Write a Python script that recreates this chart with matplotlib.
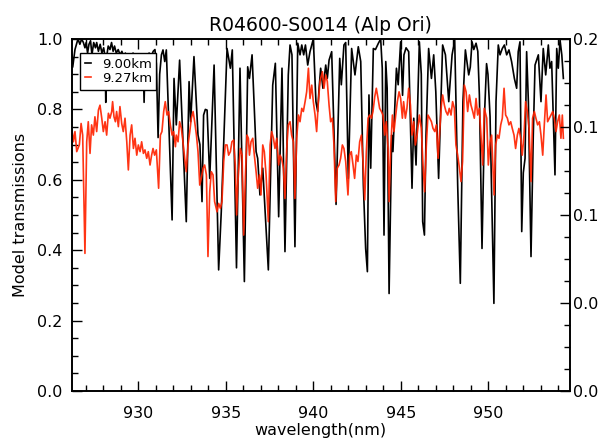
import matplotlib
matplotlib.use("Agg")
import matplotlib.pyplot as plt
from matplotlib.ticker import MultipleLocator, FixedLocator, FixedFormatter

title = "R04600-S0014 (Alp Ori)"
xlabel = "wavelength(nm)"
ylabel = "Model transmissions"
series_names = ["9.00km", "9.27km"]
right_ticks = [0.0, 0.05, 0.10, 0.15, 0.20]
right_labels = ["0.0", "0.0", "0.1", "0.1", "0.2"]

# 9.00 km (black)
black_wl = [926.21, 926.25, 926.38, 926.55, 926.66, 926.76, 926.86, 926.95, 927.02, 927.10,
            927.18, 927.27, 927.35, 927.45, 927.55, 927.62, 927.72, 927.82, 927.92, 928.02,
            928.10, 928.14, 928.19, 928.28, 928.38, 928.47, 928.56, 928.64, 928.74, 928.85,
            928.96, 929.06, 929.16, 929.26, 929.36, 929.46, 929.58, 929.70, 929.82, 929.94,
            930.06, 930.18, 930.27, 930.33, 930.39, 930.50, 930.62, 930.74, 930.85, 930.95,
            931.03, 931.13, 931.22, 931.32, 931.41, 931.51, 931.60, 931.93, 932.04, 932.17,
            932.36, 932.74, 932.90, 932.99, 933.18, 933.41, 933.52, 933.64, 933.73, 933.83,
            933.93, 934.08, 934.33, 934.46, 934.59, 934.74, 935.07, 935.26, 935.37, 935.61,
            935.81, 936.06, 936.25, 936.35, 936.50, 936.73, 936.82, 936.95, 937.11, 937.43,
            937.68, 937.83, 938.02, 938.21, 938.38, 938.57, 938.67, 938.78, 938.95, 939.11,
            939.24, 939.34, 939.45, 939.55, 939.68, 939.81, 940.00, 940.15, 940.25, 940.33,
            940.42, 940.55, 940.71, 940.80, 940.90, 941.05, 941.30, 941.51, 941.60, 941.75,
            941.85, 942.00, 942.19, 942.38, 942.57, 942.71, 942.86, 942.99, 943.09, 943.18,
            943.28, 943.43, 943.55, 943.72, 943.85, 943.94, 944.04, 944.14, 944.22, 944.33,
            944.48, 944.55, 944.75, 944.85, 944.99, 945.10, 945.18, 945.30, 945.45, 945.64,
            945.74, 945.87, 946.06, 946.17, 946.25, 946.35, 946.44, 946.59, 946.75, 946.88,
            947.00, 947.16, 947.39, 947.55, 947.74, 947.93, 948.08, 948.25, 948.40, 948.55,
            948.69, 948.88, 948.97, 949.07, 949.17, 949.30, 949.40, 949.49, 949.64, 949.79,
            949.90, 949.98, 950.10, 950.32, 950.44, 950.57, 950.67, 950.80, 950.92, 951.05,
            951.18, 951.33, 951.49, 951.62, 951.71, 951.81, 951.91, 952.00, 952.10, 952.19,
            952.29, 952.44, 952.57, 952.67, 952.86, 953.01, 953.14, 953.28, 953.43, 953.52,
            953.62, 953.81, 953.91, 954.00, 954.10, 954.20, 954.29]
black_tr = [0.955, 0.92, 0.97, 1.0, 0.985, 1.0, 0.99, 0.975, 0.99, 0.96,
            0.985, 0.995, 0.955, 0.99, 0.975, 0.99, 0.965, 0.985, 0.96, 0.975,
            0.95, 0.82, 0.95, 0.98, 0.97, 0.99, 0.965, 0.98, 0.96, 0.97,
            0.955, 0.965, 0.95, 0.96, 0.945, 0.955, 0.95, 0.96, 0.945, 0.955,
            0.95, 0.955, 0.945, 0.82, 0.945, 0.955, 0.96, 0.95, 0.965, 0.97,
            0.93, 0.72, 0.90, 0.955, 0.969, 0.936, 0.969, 0.486, 0.888, 0.756,
            0.940, 0.481, 0.879, 0.765, 0.950, 0.727, 0.70, 0.538, 0.784, 0.80,
            0.798, 0.604, 0.926, 0.633, 0.344, 0.509, 0.973, 0.917, 0.969, 0.35,
            0.917, 0.311, 0.921, 0.888, 0.955, 0.680, 0.661, 0.557, 0.633, 0.344,
            0.869, 0.931, 0.495, 0.917, 0.396, 0.898, 0.983, 0.955, 0.41, 0.988,
            0.955, 0.983, 0.955, 0.983, 0.926, 0.964, 1.0, 0.822, 0.794, 0.86,
            0.917, 0.86, 0.926, 0.888, 0.94, 0.964, 0.53, 0.945, 0.87, 0.983,
            0.99, 0.604, 0.973, 0.898, 0.978, 0.936, 0.585, 0.405, 0.339, 0.841,
            0.633, 0.973, 0.97, 0.988, 1.0, 0.917, 0.443, 0.936, 0.86, 0.277,
            0.727, 0.68, 0.917, 0.87, 0.992, 0.84, 0.955, 0.975, 0.964, 0.576,
            0.775, 0.642, 0.992, 0.9, 0.481, 0.443, 0.727, 0.973, 0.888, 0.955,
            0.85, 0.604, 0.983, 0.955, 0.822, 0.955, 0.997, 0.585, 0.306, 0.822,
            0.969, 0.898, 0.92, 0.992, 0.97, 0.988, 0.965, 0.841, 0.405, 0.794,
            0.93, 0.90, 0.78, 0.249, 0.822, 0.983, 0.955, 0.973, 0.983, 0.955,
            0.969, 0.936, 0.888, 0.86, 0.964, 0.992, 0.453, 0.62, 0.661, 0.964,
            0.822, 0.382, 0.727, 0.926, 0.955, 0.822, 0.973, 0.898, 0.983, 0.917,
            0.936, 0.614, 0.973, 0.917, 0.997, 0.955, 0.888]

# 9.27 km (red)
red_wl = [926.21, 926.29, 926.38, 926.48, 926.63, 926.73, 926.82, 926.95, 927.05, 927.14,
          927.24, 927.33, 927.43, 927.52, 927.62, 927.72, 927.81, 927.91, 928.00, 928.10,
          928.19, 928.29, 928.38, 928.48, 928.53, 928.61, 928.69, 928.76, 928.86, 928.95,
          929.05, 929.14, 929.24, 929.34, 929.43, 929.53, 929.62, 929.72, 929.81, 929.91,
          930.00, 930.10, 930.19, 930.29, 930.38, 930.48, 930.57, 930.67, 930.76, 930.84,
          930.93, 931.03, 931.16, 931.26, 931.35, 931.45, 931.54, 931.64, 931.73, 931.83,
          931.93, 932.02, 932.12, 932.17, 932.27, 932.36, 932.46, 932.55, 932.65, 932.74,
          932.84, 932.94, 933.03, 933.13, 933.22, 933.32, 933.41, 933.51, 933.60, 933.70,
          933.79, 933.89, 933.98, 934.08, 934.17, 934.27, 934.36, 934.50, 934.59, 934.69,
          934.78, 934.88, 934.97, 935.07, 935.16, 935.26, 935.35, 935.45, 935.54, 935.62,
          935.68, 935.77, 935.83, 935.93, 936.02, 936.12, 936.21, 936.29, 936.35, 936.44,
          936.54, 936.63, 936.73, 936.82, 936.92, 937.01, 937.11, 937.20, 937.30, 937.43,
          937.53, 937.62, 937.72, 937.81, 937.91, 938.02, 938.10, 938.19, 938.29, 938.38,
          938.48, 938.57, 938.67, 938.76, 938.86, 938.95, 939.05, 939.15, 939.24, 939.34,
          939.43, 939.53, 939.62, 939.72, 939.81, 939.91, 940.00, 940.10, 940.19, 940.29,
          940.38, 940.42, 940.52, 940.61, 940.71, 940.80, 940.90, 940.99, 941.09, 941.18,
          941.28, 941.37, 941.47, 941.56, 941.66, 941.75, 941.85, 941.98, 942.08, 942.17,
          942.27, 942.36, 942.46, 942.55, 942.65, 942.75, 942.84, 942.94, 943.03, 943.13,
          943.22, 943.32, 943.41, 943.51, 943.60, 943.70, 943.79, 943.89, 943.98, 944.08,
          944.17, 944.27, 944.33, 944.42, 944.52, 944.61, 944.71, 944.80, 944.90, 944.99,
          945.09, 945.16, 945.26, 945.35, 945.45, 945.55, 945.64, 945.74, 945.83, 945.93,
          946.06, 946.17, 946.27, 946.36, 946.46, 946.55, 946.65, 946.75, 946.84, 946.94,
          947.03, 947.13, 947.22, 947.32, 947.39, 947.49, 947.58, 947.68, 947.77, 947.87,
          947.96, 948.06, 948.15, 948.25, 948.35, 948.44, 948.53, 948.63, 948.73, 948.82,
          948.92, 949.01, 949.11, 949.20, 949.30, 949.39, 949.49, 949.58, 949.68, 949.77,
          949.91, 950.00, 950.10, 950.19, 950.33, 950.42, 950.52, 950.61, 950.71, 950.80,
          950.90, 950.99, 951.09, 951.18, 951.28, 951.37, 951.47, 951.56, 951.66, 951.75,
          951.85, 951.94, 952.04, 952.13, 952.23, 952.33, 952.44, 952.53, 952.63, 952.72,
          952.82, 952.92, 953.01, 953.11, 953.20, 953.30, 953.39, 953.49, 953.58, 953.68,
          953.77, 953.87, 953.96, 954.06, 954.15, 954.23, 954.29]
red_tr = [0.741, 0.708, 0.737, 0.68, 0.699, 0.760, 0.727, 0.391, 0.708, 0.765,
          0.675, 0.756, 0.727, 0.779, 0.737, 0.798, 0.812, 0.775, 0.737, 0.765,
          0.727, 0.789, 0.775, 0.794, 0.822, 0.779, 0.765, 0.794, 0.751, 0.808,
          0.760, 0.737, 0.775, 0.708, 0.628, 0.727, 0.756, 0.689, 0.718, 0.670,
          0.699, 0.680, 0.708, 0.675, 0.685, 0.661, 0.680, 0.642, 0.670, 0.689,
          0.670, 0.685, 0.576, 0.727, 0.737, 0.794, 0.822, 0.784, 0.794, 0.756,
          0.727, 0.737, 0.694, 0.727, 0.708, 0.765, 0.746, 0.708, 0.661, 0.623,
          0.699, 0.737, 0.775, 0.794, 0.765, 0.727, 0.68, 0.585, 0.604, 0.633,
          0.642, 0.614, 0.382, 0.566, 0.623, 0.614, 0.538, 0.509, 0.533, 0.519,
          0.538, 0.652, 0.699, 0.699, 0.670, 0.680, 0.708, 0.713, 0.642, 0.5,
          0.585, 0.652, 0.689, 0.670, 0.443, 0.614, 0.727, 0.718, 0.670, 0.708,
          0.718, 0.670, 0.623, 0.576, 0.614, 0.557, 0.699, 0.680, 0.614, 0.481,
          0.699, 0.737, 0.718, 0.689, 0.718, 0.642, 0.670, 0.661, 0.633, 0.547,
          0.689, 0.756, 0.765, 0.727, 0.708, 0.547, 0.718, 0.784, 0.765, 0.803,
          0.794, 0.822, 0.850, 0.917, 0.831, 0.869, 0.822, 0.784, 0.737, 0.822,
          0.879, 0.888, 0.907, 0.86, 0.898, 0.879, 0.812, 0.765, 0.775, 0.699,
          0.538, 0.633, 0.642, 0.661, 0.699, 0.689, 0.652, 0.557, 0.670, 0.680,
          0.642, 0.604, 0.670, 0.652, 0.708, 0.727, 0.652, 0.543, 0.680, 0.775,
          0.784, 0.775, 0.794, 0.836, 0.860, 0.831, 0.803, 0.794, 0.784, 0.727,
          0.765, 0.689, 0.538, 0.689, 0.784, 0.737, 0.784, 0.822, 0.850, 0.831,
          0.775, 0.822, 0.775, 0.803, 0.860, 0.812, 0.727, 0.765, 0.699, 0.727,
          0.784, 0.746, 0.642, 0.566, 0.699, 0.784, 0.775, 0.765, 0.746, 0.737,
          0.756, 0.661, 0.737, 0.812, 0.841, 0.812, 0.794, 0.784, 0.803, 0.784,
          0.822, 0.803, 0.699, 0.670, 0.633, 0.595, 0.652, 0.869, 0.850, 0.794,
          0.841, 0.812, 0.794, 0.775, 0.831, 0.784, 0.803, 0.727, 0.642, 0.803,
          0.775, 0.642, 0.708, 0.727, 0.557, 0.699, 0.727, 0.718, 0.756, 0.775,
          0.860, 0.784, 0.775, 0.756, 0.765, 0.746, 0.727, 0.689, 0.727, 0.746,
          0.718, 0.670, 0.727, 0.822, 0.794, 0.746, 0.595, 0.775, 0.794, 0.775,
          0.756, 0.765, 0.727, 0.670, 0.756, 0.841, 0.765, 0.775, 0.784, 0.794,
          0.775, 0.737, 0.765, 0.784, 0.718, 0.784, 0.718]

plt.rcParams['font.family'] = ['DejaVu Sans']
fig = plt.figure(figsize=(6.04, 4.41), dpi=100)
ax = fig.add_axes([72/604, 1-391/441, (569.5-72)/604, 352/441])

ax.plot(black_wl, black_tr, color='black', lw=1.2, label=series_names[0])
ax.plot(red_wl, red_tr, color='#ff2200', lw=1.2, alpha=0.92, label=series_names[1])

ax.set_xlim(926.21, 954.64)
ax.set_ylim(0.0, 1.0)
ax.xaxis.set_major_locator(MultipleLocator(5))
ax.xaxis.set_minor_locator(MultipleLocator(1))
ax.yaxis.set_major_locator(MultipleLocator(0.2))
ax.yaxis.set_minor_locator(MultipleLocator(0.05))
ax.yaxis.set_major_formatter(matplotlib.ticker.FormatStrFormatter('%.1f'))
ax.xaxis.set_major_formatter(matplotlib.ticker.FormatStrFormatter('%d'))
ax.tick_params(axis='x', which='both', direction='in', top=True, bottom=True,
               labelsize=11.5, pad=11)
ax.tick_params(axis='y', which='both', direction='in', left=True, right=False,
               labelsize=11.5, pad=7)
ax.tick_params(which='major', length=7, width=1)
ax.tick_params(which='minor', length=4, width=1)

ax2 = ax.twinx()
ax2.set_ylim(0.0, 0.2)
ax2.yaxis.set_major_locator(FixedLocator(right_ticks))
ax2.yaxis.set_major_formatter(FixedFormatter(right_labels))
ax2.yaxis.set_minor_locator(MultipleLocator(0.0125))
ax2.tick_params(axis='y', which='both', direction='in', labelsize=11.5, pad=2.5)
ax2.tick_params(which='major', length=7, width=1)
ax2.tick_params(which='minor', length=4, width=1)

for a in (ax, ax2):
    for s in a.spines.values():
        s.set_linewidth(1.2)

ax.set_title(title, fontsize=13.5, pad=6)
ax.set_xlabel(xlabel, fontsize=11.5, labelpad=1)
ax.set_ylabel(ylabel, fontsize=11.5, labelpad=6)

leg = ax.legend(loc='upper left', bbox_to_anchor=(0.016, 0.96), fontsize=9.5,
                handlelength=0.5, handletextpad=0.8, borderpad=0.35,
                borderaxespad=0, labelspacing=0.1, fancybox=False, framealpha=1,
                edgecolor='black')
leg.get_frame().set_linewidth(1.0)

fig.savefig('out.png', dpi=100)
